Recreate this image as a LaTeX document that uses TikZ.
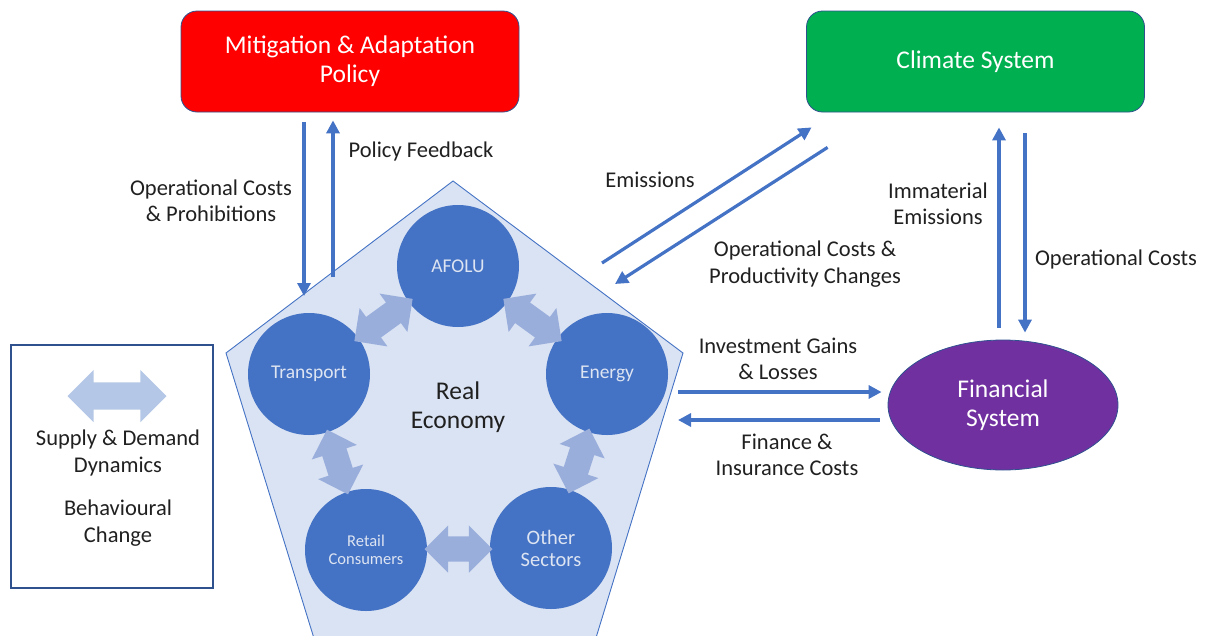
\documentclass[tikz,border=0pt]{standalone}
\usepackage{fontspec}
\setmainfont{Carlito}
\usetikzlibrary{arrows.meta,shapes.arrows,shapes.geometric}

\definecolor{policyred}{HTML}{FF0000}
\definecolor{climategreen}{HTML}{00B050}
\definecolor{finpurple}{HTML}{7030A0}
\definecolor{outline}{HTML}{2F528F}
\definecolor{flowblue}{HTML}{4472C4}
\definecolor{sectorblue}{HTML}{4472C4}
\definecolor{economyfill}{HTML}{DAE3F3}
\definecolor{swapblue}{HTML}{9AAEDC}
\definecolor{legendswap}{HTML}{B4C7E7}
\definecolor{sectortext}{HTML}{DDE4F2}
\definecolor{labeltext}{HTML}{202020}

\tikzset{
  system/.style={draw=outline, line width=0.8pt, rounded corners=16pt,
    minimum width=338pt, minimum height=101pt, align=center,
    text=white, font=\fontsize{25.5}{29}\selectfont},
  sector/.style={circle, fill=sectorblue, minimum size=122pt, inner sep=0pt,
    align=center, text=sectortext, font=\fontsize{19.5}{21}\selectfont},
  flow/.style={draw=flowblue, line width=3.2pt, -{Triangle[length=13pt,width=13pt]}},
  lbl/.style={align=center, text=labeltext, font=\fontsize{22.5}{26.5}\selectfont},
  swap/.style={double arrow, fill=swapblue, double arrow head extend=11pt,
    inner xsep=0pt, inner ysep=12.5pt, minimum height=72pt},
}

\begin{document}
\begin{tikzpicture}[x=1pt, y=-1pt]
  \path[use as bounding box] (0,0) rectangle (1208,635);

  % real economy pentagon, cut off by the lower edge
  \begin{scope}
    \clip (0,0) rectangle (1208,635);
    \draw[fill=economyfill, draw=flowblue, line width=0.9pt]
      (453,181) -- (683,353) -- (577,700) -- (333,700) -- (226,353) -- cycle;
  \end{scope}

  % the three systems
  \node[system, fill=policyred] (policy) at (350,61.5) {Mitigation \& Adaptation\\Policy};
  \node[system, fill=climategreen] (climate) at (975.5,61.5) {Climate System};
  \node[ellipse, draw=outline, line width=0.8pt, fill=finpurple, minimum width=230pt,
    minimum height=130pt, align=center, text=white, font=\fontsize{25.5}{29}\selectfont]
    (finance) at (1003,405) {Financial\\System};

  \node[lbl, font=\fontsize{25.5}{29}\selectfont] (economy) at (458,407) {Real\\Economy};

  % sectors
  \node[sector] (afolu) at (458,266) {AFOLU};
  \node[sector] (transport) at (309,374) {Transport};
  \node[sector] (energy) at (607,374) {Energy};
  \node[sector, font=\fontsize{16.5}{18}\selectfont] (retail) at (366,550) {Retail\\Consumers};
  \node[sector, font=\fontsize{20.5}{22}\selectfont] (other) at (551,548) {Other\\Sectors};

  \path (transport) -- node[swap, sloped] {} (afolu);
  \path (afolu) -- node[swap, sloped] {} (energy);
  \path (transport) -- node[swap, sloped, minimum height=68pt] {} (retail);
  \path (energy) -- node[swap, sloped, minimum height=68pt] {} (other);
  \path (retail) -- node[swap, minimum height=68pt] {} (other);

  % legend
  \node[draw=outline, line width=1.2pt, minimum width=202pt, minimum height=243pt]
    (legend) at (112,466.5) {};
  \node[swap, fill=legendswap, minimum height=99pt, inner ysep=13.5pt,
    double arrow head extend=12.5pt] (legendarrow) at (117,396) {};
  \node[lbl] (dynlbl) at (118,453) {Supply \& Demand\\Dynamics};
  \node[lbl] (behlbl) at (118,523) {Behavioural\\Change};

  % free ends on the economy side
  \coordinate (polIn) at (304,296);
  \coordinate (polOut) at (333,277);
  \coordinate (emOut) at (602,263);
  \coordinate (costIn) at (615,284);
  \coordinate (finOut) at (678,392);
  \coordinate (finIn) at (678,420);

  % flows
  \draw[flow] ([xshift=-46pt,yshift=-10pt]policy.south) -- (polIn);
  \draw[flow] (polOut) -- ([xshift=-17pt,yshift=-8pt]policy.south);
  \draw[flow] (emOut) -- ([xshift=5.5pt,yshift=-15pt]climate.south west);
  \draw[flow] ([xshift=21.5pt,yshift=-35pt]climate.south west) -- (costIn);
  \draw[flow] ([xshift=-4pt,yshift=12pt]finance.north) -- ([xshift=23.5pt,yshift=-15pt]climate.south);
  \draw[flow] ([xshift=49.5pt,yshift=-21pt]climate.south) -- ([xshift=22pt,yshift=7pt]finance.north);
  \draw[flow] (finOut) -- ([xshift=-6pt,yshift=13pt]finance.west);
  \draw[flow] ([xshift=-8pt,yshift=-15pt]finance.west) -- (finIn);

  % flow labels
  \node[lbl] (prohiblbl) at (211,201) {Operational Costs\\\& Prohibitions};
  \node[lbl] (feedbacklbl) at (421,151) {Policy Feedback};
  \node[lbl] (emislbl) at (650,180) {Emissions};
  \node[lbl] (prodlbl) at (805,264) {Operational Costs \&\\Productivity Changes};
  \node[lbl] (immlbl) at (938,204) {Immaterial\\Emissions};
  \node[lbl] (climcostlbl) at (1116,259) {Operational Costs};
  \node[lbl] (gainslbl) at (778,359) {Investment Gains\\\& Losses};
  \node[lbl] (insurlbl) at (787,455) {Finance \&\\Insurance Costs};
\end{tikzpicture}
\end{document}
